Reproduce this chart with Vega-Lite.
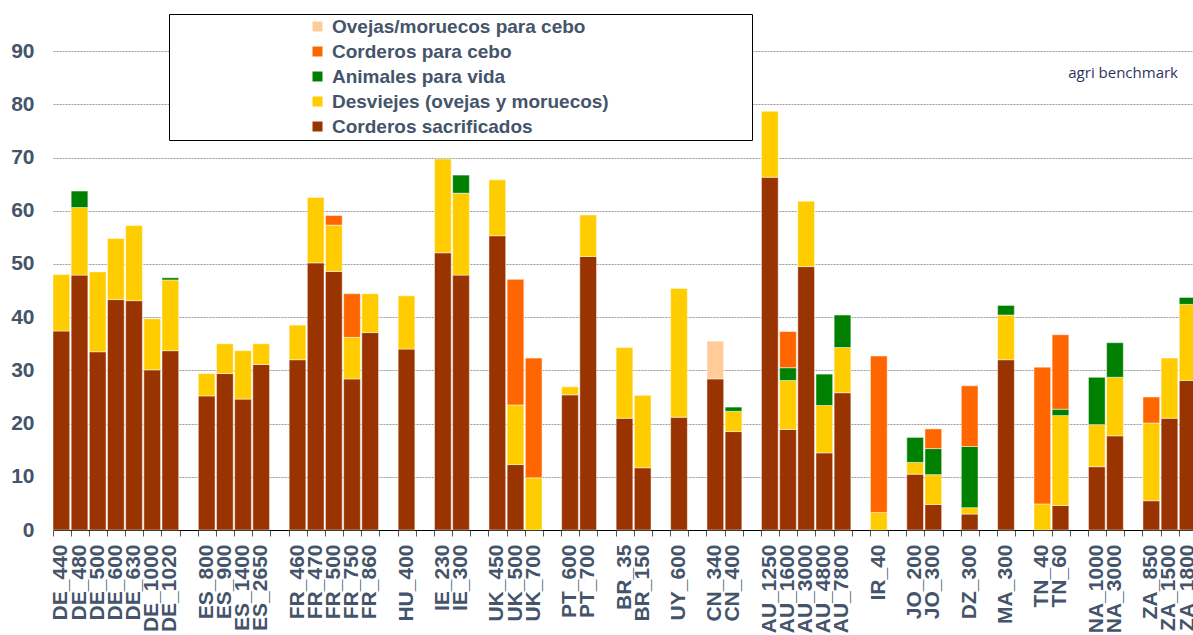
{
  "$schema": "https://vega.github.io/schema/vega-lite/v6.json",
  "width": 1143,
  "height": 530,
  "autosize": {"type": "none"},
  "padding": {"left": 53, "top": 0, "right": 0, "bottom": 105},
  "background": "white",
  "config": {
    "view": {"stroke": null},
    "font": "Liberation Sans"
  },
  "title": {
    "text": "agri benchmark",
    "orient": "top",
    "anchor": "end",
    "frame": "group",
    "offset": -81,
    "dx": -18,
    "font": "Open Sans",
    "fontSize": 15,
    "fontWeight": "normal",
    "color": "#2d3560"
  },
  "data": {
    "values": [
      {"finca": "DE_440", "Corderos sacrificados": 37.4, "Desviejes (ovejas y moruecos)": 10.6},
      {"finca": "DE_480", "Corderos sacrificados": 47.9, "Desviejes (ovejas y moruecos)": 12.7, "Animales para vida": 3.1},
      {"finca": "DE_500", "Corderos sacrificados": 33.5, "Desviejes (ovejas y moruecos)": 15.0},
      {"finca": "DE_600", "Corderos sacrificados": 43.3, "Desviejes (ovejas y moruecos)": 11.5},
      {"finca": "DE_630", "Corderos sacrificados": 43.1, "Desviejes (ovejas y moruecos)": 14.1},
      {"finca": "DE_1000", "Corderos sacrificados": 30.1, "Desviejes (ovejas y moruecos)": 9.6},
      {"finca": "DE_1020", "Corderos sacrificados": 33.7, "Desviejes (ovejas y moruecos)": 13.3, "Animales para vida": 0.4},
      {"finca": "ES_800", "Corderos sacrificados": 25.2, "Desviejes (ovejas y moruecos)": 4.2},
      {"finca": "ES_900", "Corderos sacrificados": 29.4, "Desviejes (ovejas y moruecos)": 5.6},
      {"finca": "ES_1400", "Corderos sacrificados": 24.6, "Desviejes (ovejas y moruecos)": 9.1},
      {"finca": "ES_2650", "Corderos sacrificados": 31.1, "Desviejes (ovejas y moruecos)": 3.9},
      {"finca": "FR_460", "Corderos sacrificados": 32.0, "Desviejes (ovejas y moruecos)": 6.5},
      {"finca": "FR_470", "Corderos sacrificados": 50.2, "Desviejes (ovejas y moruecos)": 12.3},
      {"finca": "FR_500", "Corderos sacrificados": 48.6, "Desviejes (ovejas y moruecos)": 8.7, "Corderos para cebo": 1.8},
      {"finca": "FR_750", "Corderos sacrificados": 28.4, "Desviejes (ovejas y moruecos)": 7.8, "Corderos para cebo": 8.2},
      {"finca": "FR_860", "Corderos sacrificados": 37.1, "Desviejes (ovejas y moruecos)": 7.3},
      {"finca": "HU_400", "Corderos sacrificados": 34.0, "Desviejes (ovejas y moruecos)": 10.0},
      {"finca": "IE_230", "Corderos sacrificados": 52.1, "Desviejes (ovejas y moruecos)": 17.6},
      {"finca": "IE_300", "Corderos sacrificados": 47.9, "Desviejes (ovejas y moruecos)": 15.4, "Animales para vida": 3.4},
      {"finca": "UK_450", "Corderos sacrificados": 55.3, "Desviejes (ovejas y moruecos)": 10.5},
      {"finca": "UK_500", "Corderos sacrificados": 12.3, "Desviejes (ovejas y moruecos)": 11.2, "Corderos para cebo": 23.6},
      {"finca": "UK_700", "Desviejes (ovejas y moruecos)": 9.8, "Corderos para cebo": 22.5},
      {"finca": "PT_600", "Corderos sacrificados": 25.4, "Desviejes (ovejas y moruecos)": 1.5},
      {"finca": "PT_700", "Corderos sacrificados": 51.4, "Desviejes (ovejas y moruecos)": 7.8},
      {"finca": "BR_35", "Corderos sacrificados": 21.0, "Desviejes (ovejas y moruecos)": 13.3},
      {"finca": "BR_150", "Corderos sacrificados": 11.7, "Desviejes (ovejas y moruecos)": 13.6},
      {"finca": "UY_600", "Corderos sacrificados": 21.2, "Desviejes (ovejas y moruecos)": 24.2},
      {"finca": "CN_340", "Corderos sacrificados": 28.4, "Ovejas/moruecos para cebo": 7.1},
      {"finca": "CN_400", "Corderos sacrificados": 18.5, "Desviejes (ovejas y moruecos)": 3.8, "Animales para vida": 0.8},
      {"finca": "AU_1250", "Corderos sacrificados": 66.3, "Desviejes (ovejas y moruecos)": 12.4},
      {"finca": "AU_1600", "Corderos sacrificados": 18.9, "Desviejes (ovejas y moruecos)": 9.2, "Animales para vida": 2.4, "Corderos para cebo": 6.8},
      {"finca": "AU_3000", "Corderos sacrificados": 49.5, "Desviejes (ovejas y moruecos)": 12.3},
      {"finca": "AU_4800", "Corderos sacrificados": 14.5, "Desviejes (ovejas y moruecos)": 8.9, "Animales para vida": 5.9},
      {"finca": "AU_7800", "Corderos sacrificados": 25.8, "Desviejes (ovejas y moruecos)": 8.5, "Animales para vida": 6.1},
      {"finca": "IR_40", "Desviejes (ovejas y moruecos)": 3.3, "Corderos para cebo": 29.4},
      {"finca": "JO_200", "Corderos sacrificados": 10.5, "Desviejes (ovejas y moruecos)": 2.2, "Animales para vida": 4.7},
      {"finca": "JO_300", "Corderos sacrificados": 4.8, "Desviejes (ovejas y moruecos)": 5.6, "Animales para vida": 4.9, "Corderos para cebo": 3.7},
      {"finca": "DZ_300", "Corderos sacrificados": 3.0, "Desviejes (ovejas y moruecos)": 1.2, "Animales para vida": 11.5, "Corderos para cebo": 11.4},
      {"finca": "MA_300", "Corderos sacrificados": 32.0, "Desviejes (ovejas y moruecos)": 8.4, "Animales para vida": 1.8},
      {"finca": "TN_40", "Desviejes (ovejas y moruecos)": 4.9, "Corderos para cebo": 25.7},
      {"finca": "TN_60", "Corderos sacrificados": 4.6, "Desviejes (ovejas y moruecos)": 16.9, "Animales para vida": 1.2, "Corderos para cebo": 14.0},
      {"finca": "NA_1000", "Corderos sacrificados": 11.9, "Desviejes (ovejas y moruecos)": 7.9, "Animales para vida": 8.9},
      {"finca": "NA_3000", "Corderos sacrificados": 17.7, "Desviejes (ovejas y moruecos)": 11.0, "Animales para vida": 6.5},
      {"finca": "ZA_850", "Corderos sacrificados": 5.5, "Desviejes (ovejas y moruecos)": 14.6, "Corderos para cebo": 4.9},
      {"finca": "ZA_1500", "Corderos sacrificados": 21.0, "Desviejes (ovejas y moruecos)": 11.3},
      {"finca": "ZA_1800", "Corderos sacrificados": 28.1, "Desviejes (ovejas y moruecos)": 14.3, "Animales para vida": 1.3}
    ]
  },
  "transform": [
    {"fold": ["Corderos sacrificados", "Desviejes (ovejas y moruecos)", "Animales para vida", "Corderos para cebo", "Ovejas/moruecos para cebo"], "as": ["serie", "valor"]},
    {"filter": "isValid(datum.valor) && datum.valor > 0"},
    {"calculate": "indexof(['Corderos sacrificados','Desviejes (ovejas y moruecos)','Animales para vida','Corderos para cebo','Ovejas/moruecos para cebo'], datum.serie)", "as": "orden"}
  ],
  "mark": {"type": "bar", "stroke": "#ffffff", "strokeWidth": 0.6, "strokeOpacity": 0.8},
  "encoding": {
    "x": {
      "field": "finca",
      "type": "nominal",
      "sort": null,
      "scale": {
        "domain": ["DE_440", "DE_480", "DE_500", "DE_600", "DE_630", "DE_1000", "DE_1020", "g1",
          "ES_800", "ES_900", "ES_1400", "ES_2650", "g2",
          "FR_460", "FR_470", "FR_500", "FR_750", "FR_860", "g3",
          "HU_400", "g4",
          "IE_230", "IE_300", "g5",
          "UK_450", "UK_500", "UK_700", "g6",
          "PT_600", "PT_700", "g7",
          "BR_35", "BR_150", "g8",
          "UY_600", "g9",
          "CN_340", "CN_400", "g10",
          "AU_1250", "AU_1600", "AU_3000", "AU_4800", "AU_7800", "g11",
          "IR_40", "g12",
          "JO_200", "JO_300", "g13",
          "DZ_300", "g14",
          "MA_300", "g15",
          "TN_40", "TN_60", "g16",
          "NA_1000", "NA_3000", "g17",
          "ZA_850", "ZA_1500", "ZA_1800"],
        "paddingInner": 0.08,
        "paddingOuter": 0
      },
      "axis": {
        "title": null,
        "labelAngle": -90,
        "labelExpr": "test(/^g[0-9]/, '' + datum.label) ? '' : datum.label",
        "labelFont": "Liberation Sans",
        "labelFontSize": 21,
        "labelFontWeight": "bold",
        "labelColor": "#44546A",
        "labelOverlap": false,
        "labelBound": false,
        "labelPadding": 8,
        "bandPosition": 0,
        "labelOffset": 0,
        "tickSize": 6,
        "tickColor": "#555555",
        "domainColor": "#000000",
        "grid": false
      }
    },
    "y": {
      "field": "valor",
      "type": "quantitative",
      "stack": "zero",
      "scale": {"domain": [0, 99.6], "nice": false},
      "axis": {
        "title": null,
        "values": [0, 10, 20, 30, 40, 50, 60, 70, 80, 90],
        "labelFont": "Liberation Sans",
        "labelFontSize": 21,
        "labelFontWeight": "bold",
        "labelColor": "#44546A",
        "labelPadding": 19,
        "ticks": false,
        "domain": false,
        "grid": true,
        "gridColor": "#9a9a9a",
        "gridDash": [2, 1]
      }
    },
    "color": {
      "field": "serie",
      "type": "nominal",
      "scale": {
        "domain": ["Ovejas/moruecos para cebo", "Corderos para cebo", "Animales para vida", "Desviejes (ovejas y moruecos)", "Corderos sacrificados"],
        "range": ["#FFCC99", "#FF6600", "#008000", "#FFCC00", "#993300"]
      },
      "legend": {
        "orient": "none",
        "legendX": 116,
        "legendY": 14,
        "direction": "vertical",
        "title": "\u2800\u2800\u2800\u2800\u2800\u2800\u2800\u2800\u2800",
        "titleOrient": "left",
        "titlePadding": 10,
        "titleFont": "Liberation Sans",
        "titleFontSize": 19,
        "titleFontWeight": "bold",
        "titleColor": "#ffffff",
        "labelExpr": "datum.label + '\u2800\u2800\u2800\u2800\u2800\u2800\u2800\u2800\u2800\u2800'",
        "labelFont": "Liberation Sans",
        "labelFontSize": 19,
        "labelFontWeight": "bold",
        "labelColor": "#44546A",
        "labelLimit": 900,
        "labelOffset": 5,
        "symbolType": "square",
        "symbolSize": 100,
        "symbolStrokeWidth": 0,
        "rowPadding": 5,
        "padding": 3,
        "strokeColor": "#000000",
        "fillColor": "#ffffff"
      }
    },
    "order": {"field": "orden", "type": "quantitative"}
  }
}
